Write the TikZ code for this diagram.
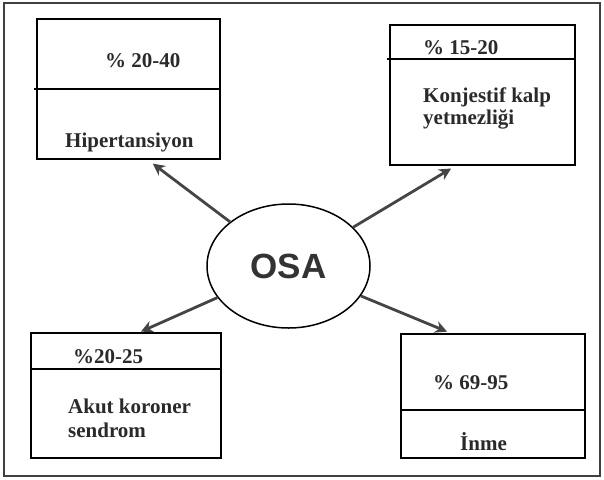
\documentclass[tikz,border=0pt]{standalone}
\usepackage{fontspec}
\setmainfont{Liberation Serif}
\newfontfamily\osafont{Liberation Sans}
\usetikzlibrary{arrows.meta,calc,shapes.geometric}
\definecolor{txt}{HTML}{2A2A2A}
\definecolor{arr}{HTML}{454545}
\tikzset{
  box/.style={draw=black, line width=1.8pt, fill=white, inner sep=0pt},
  lbl/.style={anchor=base west, inner sep=0pt, text=txt, font=\fontsize{21}{24}\selectfont\bfseries},
  conn/.style={draw=arr, line width=2.8pt, -{Stealth[length=12pt,width=12pt]}, shorten >=1pt},
  divider/.style={draw=black, line width=1.5pt}
}
\begin{document}
\begin{tikzpicture}[x=1pt,y=-1pt]
\useasboundingbox (0,0) rectangle (604,479);
\fill[white] (0,0) rectangle (604,479);
\draw[line width=1.6pt, draw=black!75] (4,3) rectangle (600,476);

% boxes
\node[box, minimum width=183pt, minimum height=140pt] (b1) at (128.5,89) {};
\node[box, minimum width=185pt, minimum height=140pt] (b2) at (482.5,95) {};
\node[box, minimum width=190pt, minimum height=125pt] (b3) at (126,395.5) {};
\node[box, minimum width=184pt, minimum height=124pt] (b4) at (493,396) {};

% dividers
\draw[divider] ([xshift=-2pt]b1.west) -- (b1.east);
\draw[divider] ([xshift=-2pt,yshift=-35pt]b2.north west) -- ([yshift=-35pt]b2.north east);
\draw[divider] ([yshift=-37pt]b3.north west) -- ([yshift=-37pt]b3.north east);
\draw[divider] ([yshift=-77pt]b4.north west) -- ([yshift=-77pt]b4.north east);

% texts
\node[lbl] (p1) at (105,67) {\% 20-40};
\node[lbl] (t1) at (65,147) {Hipertansiyon};
\node[lbl] (p2) at (423,54) {\% 15-20};
\node[lbl] (t2a) at (423,102) {Konjestif kalp};
\node[lbl] (t2b) at (423,124) {yetmezliği};
\node[lbl] (p3) at (73,363) {\%20-25};
\node[lbl] (t3a) at (68,413) {Akut koroner};
\node[lbl] (t3b) at (68,437) {sendrom};
\node[lbl] (p4) at (433,389) {\% 69-95};
\node[lbl] (t4) at (460,450) {İnme};

% ellipse
\node[draw=black, line width=1.5pt, ellipse, fill=white, minimum width=163pt, minimum height=124pt, inner sep=0pt,
      text=black!80, font=\osafont\fontsize{35}{40}\selectfont\bfseries] (osa) at (288.5,266) {OSA};

% arrow tips
\coordinate (a1) at (152,163);
\coordinate (a2) at (452,168);
\coordinate (a3) at (140,332);
\coordinate (a4) at (448,332);
\draw[conn] (osa) -- (a1);
\draw[conn] (osa) -- (a2);
\draw[conn] (osa) -- (a3);
\draw[conn] (osa) -- (a4);
\end{tikzpicture}
\end{document}
